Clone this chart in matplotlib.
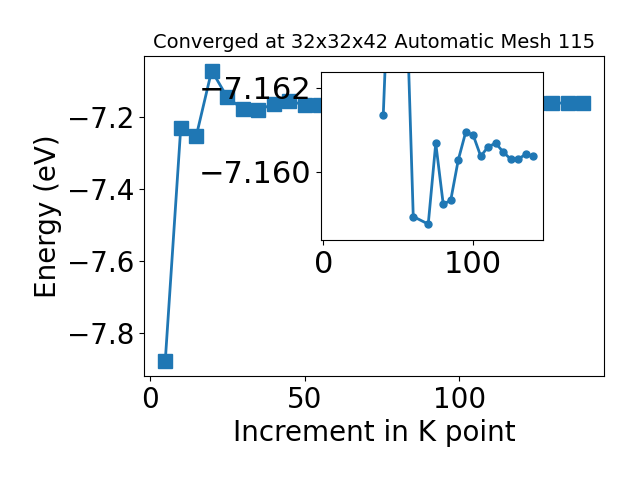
import numpy as np
import matplotlib
matplotlib.use('Agg')
import matplotlib.pyplot as plt

# k point increments and total energies
kpts = [5, 10, 15, 20, 25, 30, 35, 40, 45, 50, 55, 60, 70, 75, 80, 85,
        90, 95, 100, 105, 110, 115, 120, 125, 130, 135, 140]
energy = [-7.879, -7.231, -7.253, -7.070, -7.144, -7.177, -7.180, -7.163,
          -7.154, -7.166, -7.165, -7.15893, -7.15875, -7.16068, -7.15922,
          -7.15932, -7.16028, -7.16095, -7.16087, -7.16037, -7.16060,
          -7.16068, -7.16047, -7.16030, -7.16030, -7.16042, -7.16037]

# zoomed run, from 40 onwards
kpts_zoom = kpts[7:]
energy_zoom = [-7.16135, -7.1659, -7.1662, -7.1647, -7.15893, -7.15875,
               -7.16068, -7.15922, -7.15932, -7.16028, -7.16095, -7.16087,
               -7.16037, -7.16060, -7.16068, -7.16047, -7.16030, -7.16030,
               -7.16042, -7.16037]

plt.rcParams['font.size'] = 20

fig = plt.figure(figsize=(6.4, 4.8), dpi=100)
ax = fig.add_axes([0.2255, 0.2167, 0.7185, 0.6666])
ax.plot(kpts, energy, marker='s', markersize=10, linewidth=2)
ax.set_xlabel('Increment in K point')
ax.set_ylabel('Energy (eV)')
ax.set_title('Converged at 32x32x42 Automatic Mesh 115', fontsize=14)

ins = fig.add_axes([0.501, 0.5, 0.348, 0.349])
ins.plot(kpts_zoom, energy_zoom, marker='o', markersize=5, linewidth=2)
ins.set_xlim(-1.75, 146.75)
ins.set_ylim(-7.15837, -7.16237)
ins.tick_params(labelsize=22)

fig.savefig('out.png')
